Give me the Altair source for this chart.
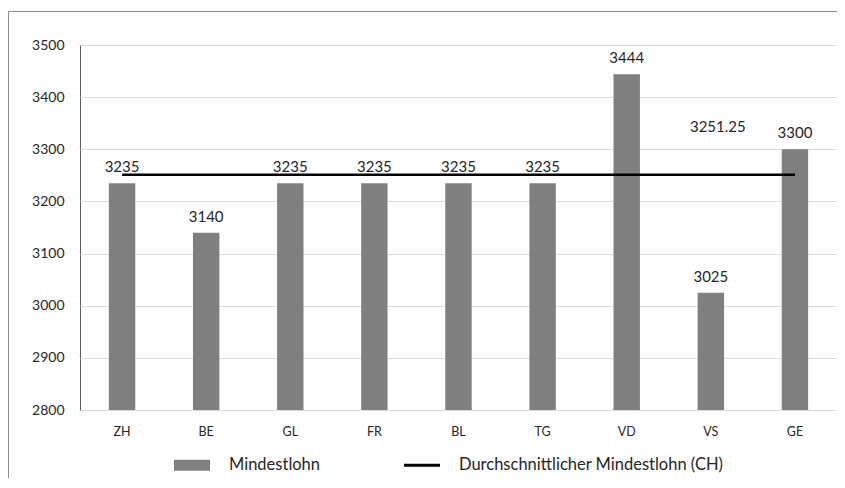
import altair as alt
import pandas as pd

kantone = ["ZH", "BE", "GL", "FR", "BL", "TG", "VD", "VS", "GE"]
mindestlohn = [3235, 3140, 3235, 3235, 3235, 3235, 3444, 3025, 3300]
durchschnitt = 3251.25
legende = ["Mindestlohn", "Durchschnittlicher Mindestlohn (CH)"]
y_ticks = [2800, 2900, 3000, 3100, 3200, 3300, 3400, 3500]

df = pd.DataFrame({"kanton": kantone, "lohn": mindestlohn, "schnitt": [durchschnitt] * len(kantone)})
avg_df = pd.DataFrame({"kanton": ["VS"], "lohn": [durchschnitt], "txt": [f"{durchschnitt:.2f}"]})
leg_df = pd.DataFrame({"serie": legende, "kanton": ["ZH", "ZH"], "lohn": [3000, 3000]})

FONT = "Lato"
TXT = "#262626"

x = alt.X(
    "kanton:N", sort=kantone, title=None,
    scale=alt.Scale(paddingInner=0.686, paddingOuter=0.343),
    axis=alt.Axis(labelAngle=0, ticks=False, tickSize=0, domain=False, labelPadding=15,
                  labelFont=FONT, labelFontSize=12.5, labelColor=TXT),
)
y = alt.Y(
    "lohn:Q", title=None,
    scale=alt.Scale(domain=[2800, 3500], nice=False, zero=False),
    axis=alt.Axis(values=y_ticks, format="d", ticks=False, tickSize=0, domain=False, labelPadding=16,
                  labelFont=FONT, labelFontSize=14, labelColor=TXT,
                  gridColor="#dcdcdc", gridWidth=1),
)

frame = alt.Chart(pd.DataFrame({"a": [0]})).mark_rect(
    fillOpacity=0, stroke="#8a8a8a", strokeWidth=1
).encode(x=alt.value(-71.5), x2=alt.value(800), y=alt.value(-33.5), y2=alt.value(600))

bars = alt.Chart(df).mark_bar(color="#7f7f7f").encode(x=x, y=y, y2=alt.datum(2800))

line = alt.Chart(df).mark_line(color="black", strokeWidth=2.5).encode(x=x, y="schnitt:Q")

labels = alt.Chart(df).mark_text(
    dy=-11, baseline="alphabetic", font=FONT, fontSize=15, color=TXT
).encode(x=x, y="lohn:Q", text=alt.Text("lohn:Q", format="d"))

avg_label = alt.Chart(avg_df).mark_text(
    dx=7, dy=-43, baseline="alphabetic", font=FONT, fontSize=15, color=TXT
).encode(x=x, y="lohn:Q", text="txt:N")

leg = dict(
    orient="none", legendX=94, legendY=402, direction="horizontal", title=None,
    labelFont=FONT, labelFontSize=16.5, labelColor=TXT, labelLimit=0, symbolSize=1296,
    symbolStrokeWidth=0, symbolOpacity=1, labelOffset=19, columnPadding=83, padding=0,
)
legend_pts = alt.Chart(leg_df).mark_point(filled=True, opacity=0).encode(
    x=x, y="lohn:Q",
    color=alt.Color("serie:N", scale=alt.Scale(domain=legende, range=["#7f7f7f", "black"]),
                    legend=alt.Legend(**leg)),
    shape=alt.Shape("serie:N", scale=alt.Scale(domain=legende, range=[
        "M-1,-0.306H1V0.306H-1Z", "M-1,-0.083H1V0.083H-1Z"]),
        legend=alt.Legend(**leg)),
)

chart = alt.layer(frame, bars, line, labels, avg_label, legend_pts).properties(
    width=757, height=365, autosize="none",
    padding={"left": 72, "top": 37, "right": 0, "bottom": 68},
).configure_view(stroke="#595959", strokeWidth=1)

chart.save("out.html", embed_options={"renderer": "svg", "actions": False})
